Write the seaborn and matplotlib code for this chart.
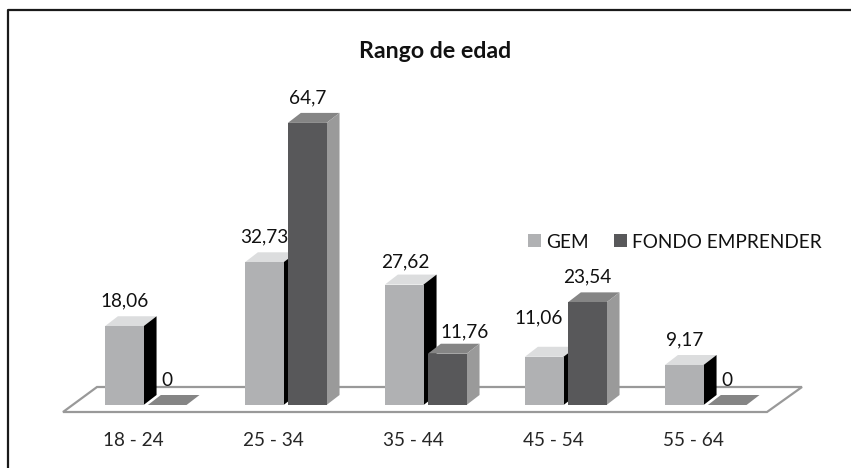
import numpy as np
import pandas as pd
import matplotlib
matplotlib.use("Agg")
import matplotlib.pyplot as plt
from matplotlib.lines import Line2D
from matplotlib.patches import Polygon
from matplotlib.transforms import IdentityTransform
import seaborn as sns

age_ranges = ["18 - 24", "25 - 34", "35 - 44", "45 - 54", "55 - 64"]
gem = [18.06, 32.73, 27.62, 11.06, 9.17]
fondo = [0, 64.7, 11.76, 23.54, 0]

W, H = 851, 468
TEXT = 13.7

sns.set_theme(style="white")
plt.rcParams["font.family"] = ["Lato", "DejaVu Sans"]
plt.rcParams["text.color"] = "#111111"

df = pd.DataFrame({
    "rango": age_ranges * 2,
    "valor": gem + fondo,
    "serie": ["GEM"] * 5 + ["FONDO EMPRENDER"] * 5,
})

# front colour, top face, side face
colors = {"GEM": ("#b0b1b3", "#dcddde", "#000000"),
          "FONDO EMPRENDER": ("#58585a", "#858585", "#9a9a9a")}

# a few value labels were moved by hand in the original (px right, px above the bar)
label_nudge = {"11,76": (17, 22), "11,06": (-6, 39), "27,62": (1, 23)}

fig = plt.figure(figsize=(W / 100, H / 100), dpi=100)
# axes placed so that y=0 sits on the bar base and 1 unit is about 4.36 px
ax = fig.add_axes([75.7 / W, (H - 405) / H, 700 / W, 305.2 / H])
ax.patch.set_visible(False)

sns.barplot(data=df, x="rango", y="valor", hue="serie", order=age_ranges,
            palette={k: v[0] for k, v in colors.items()},
            width=0.614, gap=0.1, saturation=1, errorbar=None, linewidth=0, ax=ax)
ax.set_xlim(-0.5, 4.5)
ax.set_ylim(0, 70)

px_x = 5 / 700
px_y = 70 / 305.2
depth_x = 13 * px_x
depth_y = 10 * px_y

series_vals = [gem, fondo]
for s, (name, vals) in enumerate(zip(colors, series_vals)):
    front, top, side = colors[name]
    bars = ax.containers[s]
    for bar, v in zip(bars, vals):
        x0, x1 = bar.get_x(), bar.get_x() + bar.get_width()
        h = bar.get_height()
        z = 3 + s
        bar.set_zorder(z + 0.2)
        bar.set_clip_on(False)
        if h > 0:
            ax.add_patch(Polygon([(x0, h), (x1, h), (x1 + depth_x, h + depth_y), (x0 + depth_x, h + depth_y)],
                                 fc=top, ec="none", zorder=z, clip_on=False))
            ax.add_patch(Polygon([(x1, 0), (x1, h), (x1 + depth_x, h + depth_y), (x1 + depth_x, depth_y)],
                                 fc=side, ec="none", zorder=z, clip_on=False))
        else:
            ax.add_patch(Polygon([(x0, 0), (x1, 0), (x1 + depth_x, depth_y), (x0 + depth_x, depth_y)],
                                 fc=top, ec="none", zorder=z, clip_on=False))
        label = str(v).replace(".", ",")
        nx, ny = label_nudge.get(label, (0, 25))
        ax.annotate(label, (bar.get_x() + bar.get_width() / 2, h), xytext=(nx * 0.72, ny * 0.72),
                    textcoords="offset points", ha="center", va="center",
                    fontsize=TEXT, zorder=10, annotation_clip=False)

# floor of the 3D box, in pixels
floor = [(63, H - 412), (767, H - 412), (802, H - 387), (97, H - 387)]
fig.add_artist(Polygon(floor, closed=True, fc="white", ec="#999999", lw=1.6,
                       transform=IdentityTransform(), zorder=-1))

# outer frame, only left and top survive in the scan
fig.add_artist(Line2D([8 / W, 8 / W, 1], [0, 1 - 10 / H, 1 - 10 / H], color="#1a1a1a", lw=1.6))

ax.set_xticks(np.arange(5) - 12.7 * px_x, age_ranges)
ax.set_yticks([])
ax.set_xlabel("")
ax.set_ylabel("")
ax.tick_params(axis="x", length=0, pad=19.5, labelsize=TEXT)
sns.despine(ax=ax, left=True, bottom=True)

fig.text(435 / W, 1 - 52 / H, "Rango de edad", ha="center", va="center",
         fontsize=16.7, fontweight="bold", color="#111111")

handles, labels = ax.get_legend_handles_labels()
ax.legend(handles, labels, ncol=2, frameon=False, loc="center left",
          bbox_to_anchor=(528 / W, 1 - 242 / H), bbox_transform=fig.transFigure,
          fontsize=TEXT, handlelength=0.68, handleheight=0.68, handletextpad=0.26,
          columnspacing=1.35, borderpad=0, labelspacing=0, borderaxespad=0)

fig.savefig("out.png", dpi=100)
